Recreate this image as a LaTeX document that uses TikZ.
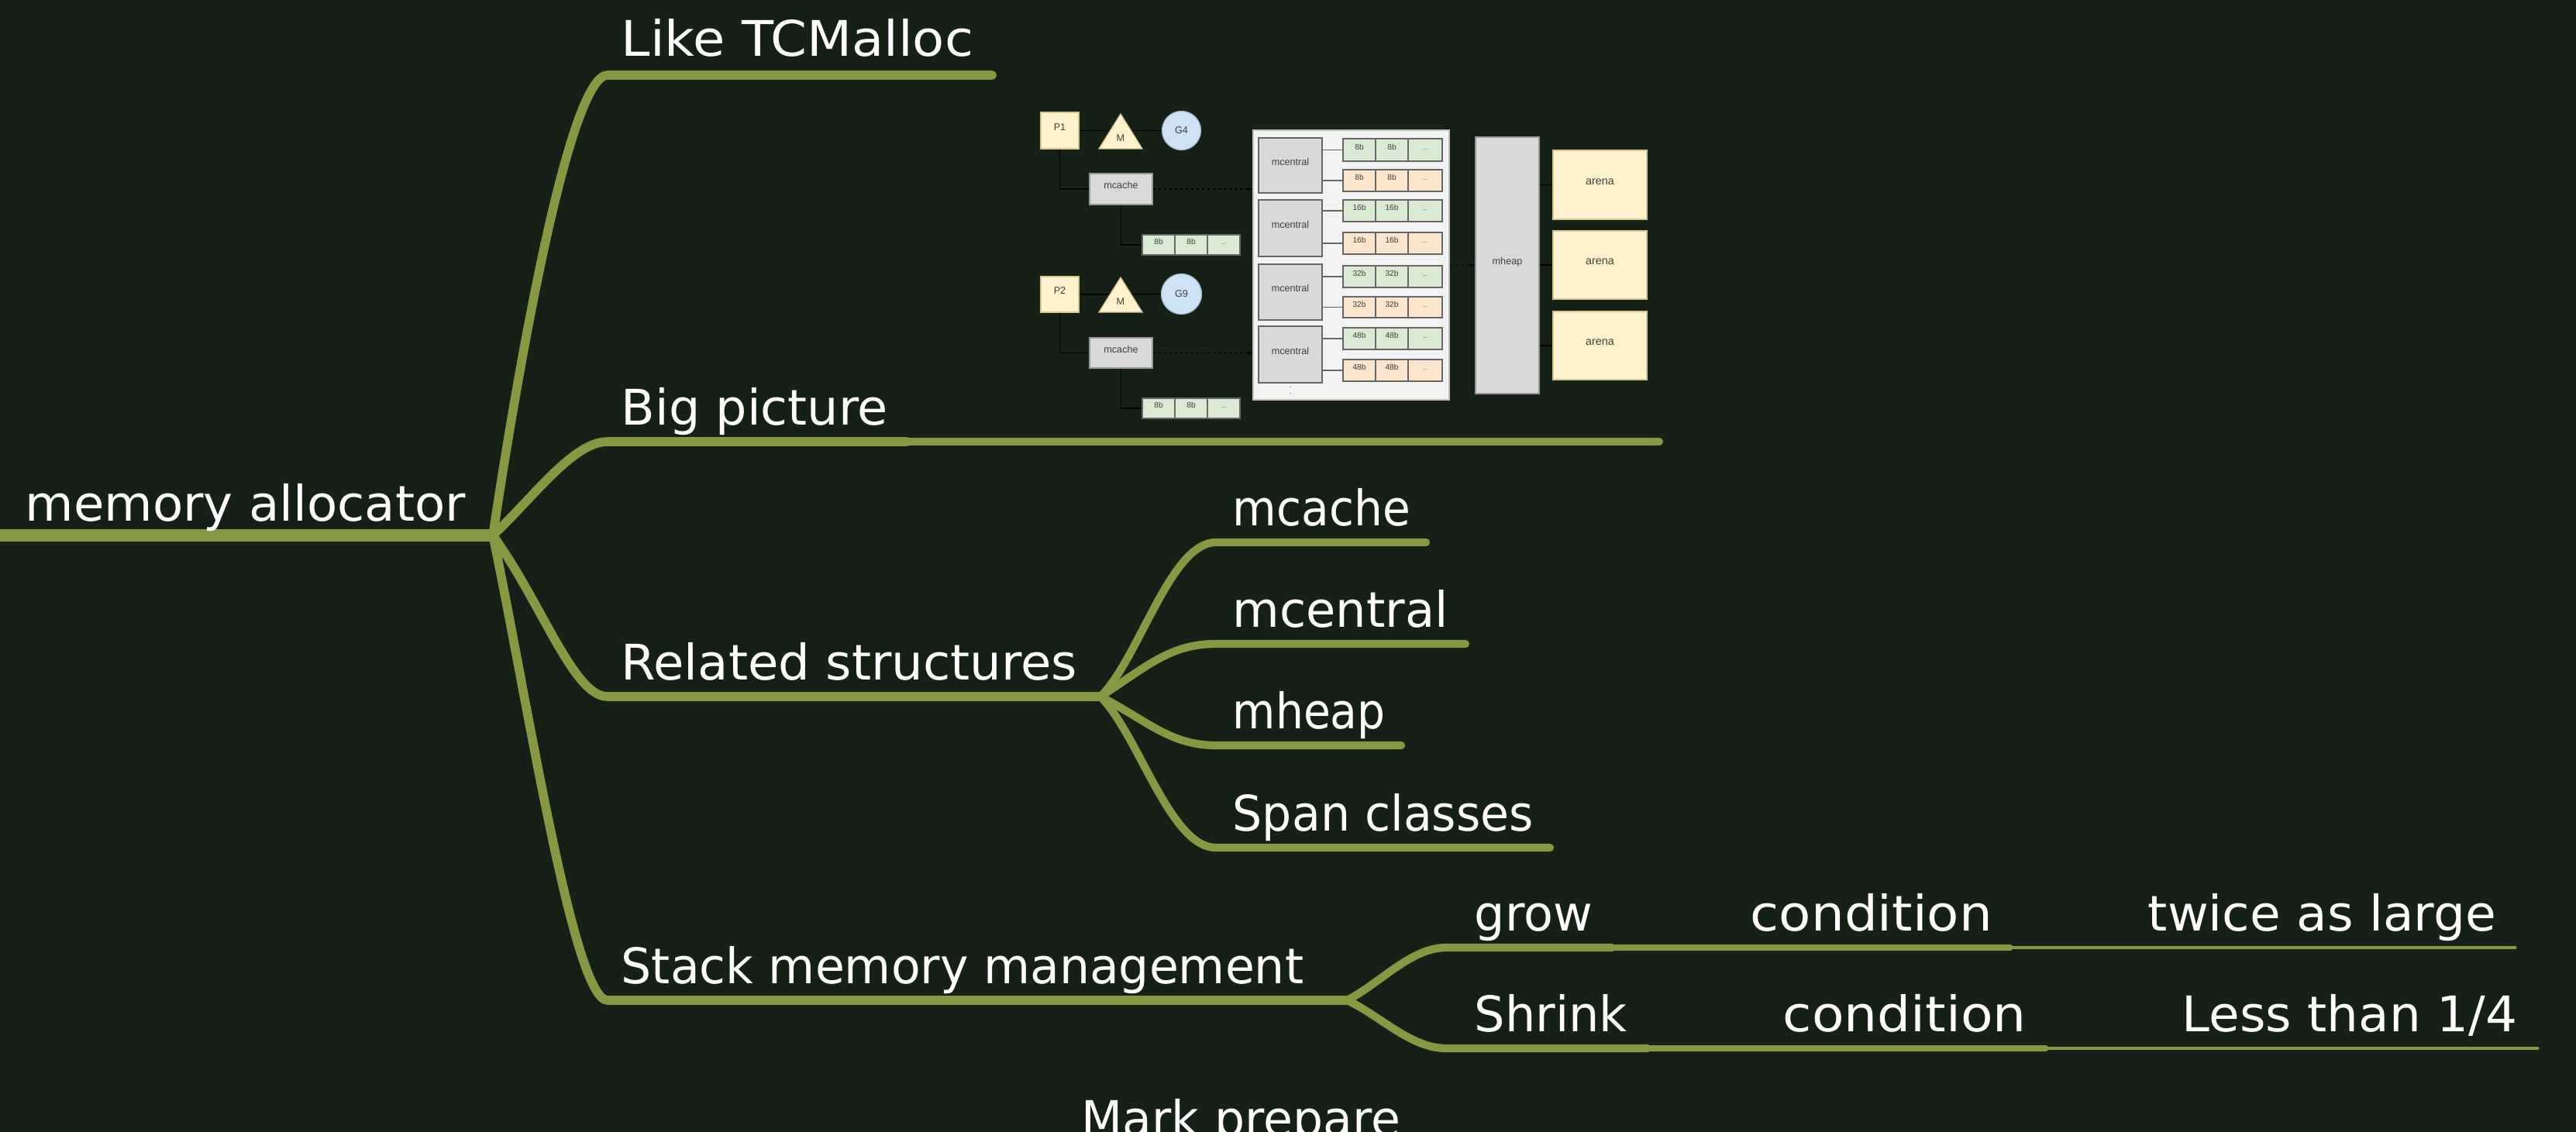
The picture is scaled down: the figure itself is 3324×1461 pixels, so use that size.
\documentclass[tikz,border=0pt]{standalone}
\usepackage{fontspec}
\setmainfont{DejaVu Sans}
\newfontfamily\arialf{Liberation Sans}
\usetikzlibrary{fit,arrows.meta}
\definecolor{bgc}{RGB}{21,32,23}
\definecolor{olv}{RGB}{135,152,66}
\definecolor{yel}{HTML}{FFF2CC}
\definecolor{yelb}{HTML}{D6C48F}
\definecolor{blu}{HTML}{CFE2F3}
\definecolor{blub}{HTML}{9FB9D3}
\definecolor{gry}{HTML}{D9D9D9}
\definecolor{grn}{HTML}{D9EAD3}
\definecolor{org}{HTML}{FCE5CD}
\definecolor{pnl}{HTML}{F3F3F3}
\pgfdeclarelayer{bg}\pgfdeclarelayer{conn}\pgfsetlayers{bg,conn,main}
\newcommand\tw[2]{\resizebox{#1}{\height}{#2}}
\tikzset{
 mt/.style={text=white, font=\fontsize{18}{20}\selectfont, anchor=base west, inner sep=0},
 lzero/.style={draw=olv, line width=4.5pt, line cap=round},
 lone/.style={draw=olv, line width=3.3pt, line cap=round},
 ltwo/.style={draw=olv, line width=2.9pt, line cap=round},
 lthree/.style={draw=olv, line width=2.0pt, line cap=round},
 lfour/.style={draw=olv, line width=1.4pt, line cap=round},
 eb/.style={inner sep=0, draw=#1, line width=0.35pt, font=\arialf\fontsize{3.6}{4}\selectfont, text=black!75},
 cell/.style={eb=black!60, font=\arialf\fontsize{2.9}{3}\selectfont},
 dk/.style={draw=black, line width=0.4pt},
 gl/.style={draw=black!60, line width=0.45pt},
 dsh/.style={draw=black, line width=0.4pt, dash pattern=on 1pt off 1pt, -{Latex[length=0.6mm,width=0.5mm]}},
}
\newcommand\crow[5]{%
 \node[cell,fill=#4,fit={(1733,#2)(1775,#3)}] (#1a) {#5};
 \node[cell,fill=#4,fit={(1775,#2)(1817,#3)}] (#1b) {#5};
 \node[cell,fill=#4,fit={(1817,#2)(1861,#3)}] (#1c) {\tiny\fontsize{2.2}{2.5}\selectfont ...};
}
\newcommand\mrow[4]{%
 \node[cell,fill=grn,fit={(1474,#2)(1516,#3)}] (#1a) {8b};
 \node[cell,fill=grn,fit={(1516,#2)(1558,#3)}] (#1b) {8b};
 \node[cell,fill=grn,fit={(1558,#2)(1600,#3)}] (#1c) {\fontsize{2.2}{2.5}\selectfont ...};
}
\begin{document}
\begin{tikzpicture}[x=0.01cm,y=-0.01cm]
\begin{pgfonlayer}{bg}
\fill[bgc] (0,0) rectangle (3324,1461);
\end{pgfonlayer}
\useasboundingbox (0,0) rectangle (3324,1461);

% ---------- mind map coordinates ----------
\coordinate (r0) at (-20,691);
\coordinate (r1) at (636,691);
\coordinate (a0) at (784,97);   \coordinate (a1) at (1280,97);
\coordinate (b0) at (784,570);  \coordinate (b1) at (1170,570); \coordinate (b2) at (2141,570);
\coordinate (c0) at (784,899);  \coordinate (c1) at (1420,899);
\coordinate (d0) at (784,1291); \coordinate (d1) at (1738,1291);
\coordinate (c10) at (1569,700);  \coordinate (c11) at (1840,700);
\coordinate (c20) at (1569,831);  \coordinate (c21) at (1891,831);
\coordinate (c30) at (1569,962);  \coordinate (c31) at (1808,962);
\coordinate (c40) at (1569,1094); \coordinate (c41) at (2000,1094);
\coordinate (g0) at (1866,1223); \coordinate (g1) at (2080,1223); \coordinate (g2) at (2594,1223); \coordinate (g3) at (3245,1223);
\coordinate (s0) at (1866,1353); \coordinate (s1) at (2126,1353); \coordinate (s2) at (2640,1353); \coordinate (s3) at (3274,1353);

\begin{pgfonlayer}{conn}
\draw[lzero] (r0) -- (r1);
\draw[lone] (r1) .. controls +(44,-291) and +(-44,0) .. (a0) -- (a1);
\draw[lone] (r1) .. controls +(54,-51) and +(-44,0) .. (b0) -- (b1);
\draw[ltwo] (b1) -- (b2);
\draw[lone] (r1) .. controls +(64,89) and +(-44,0) .. (c0) -- (c1);
\draw[lone] (r1) .. controls +(44,209) and +(-44,0) .. (d0) -- (d1);
\draw[ltwo] (c1) .. controls +(50,-49) and +(-59,0) .. (c10) -- (c11);
\draw[ltwo] (c1) .. controls +(60,-39) and +(-59,0) .. (c20) -- (c21);
\draw[ltwo] (c1) .. controls +(60,31) and +(-59,0) .. (c30) -- (c31);
\draw[ltwo] (c1) .. controls +(50,51) and +(-59,0) .. (c40) -- (c41);
\draw[ltwo] (d1) .. controls +(42,-21) and +(-46,0) .. (g0) -- (g1);
\draw[lthree] (g1) -- (g2);
\draw[lfour] (g2) -- (g3);
\draw[ltwo] (d1) .. controls +(42,19) and +(-46,0) .. (s0) -- (s1);
\draw[lthree] (s1) -- (s2);
\draw[lfour] (s2) -- (s3);
\end{pgfonlayer}

% ---------- mind map texts ----------
\node[mt] (troot) at (32,672) {\tw{5.68cm}{memory allocator}};
\node[mt] (tlike) at (801,73) {\tw{4.54cm}{Like TCMalloc}};
\node[mt] (tbig) at (801,548) {\tw{3.44cm}{Big picture}};
\node[mt] (trel) at (801,877) {\tw{5.88cm}{Related structures}};
\node[mt] (tstack) at (801,1269) {\tw{8.80cm}{Stack memory management}};
\node[mt] (tmcache) at (1590,678) {\tw{2.29cm}{mcache}};
\node[mt] (tmcentral) at (1590,809) {\tw{2.78cm}{mcentral}};
\node[mt] (tmheap) at (1590,940) {\tw{1.97cm}{mheap}};
\node[mt] (tspan) at (1590,1072) {\tw{3.88cm}{Span classes}};
\node[mt] (tgrow) at (1902,1201) {\tw{1.52cm}{grow}};
\node[mt] (tcond1) at (2258,1201) {\tw{3.12cm}{condition}};
\node[mt] (ttwice) at (2771,1201) {\tw{4.49cm}{twice as large}};
\node[mt] (tshrink) at (1902,1331) {\tw{1.97cm}{Shrink}};
\node[mt] (tcond2) at (2300,1331) {\tw{3.14cm}{condition}};
\node[mt] (tless) at (2815,1331) {\tw{4.32cm}{Less than 1/4}};
\node[mt] (tmark) at (1395,1466) {\tw{4.11cm}{Mark prepare}};

% ---------- embedded diagram ----------
\node[eb=yelb,fill=yel,fit={(1343,145)(1392,192)}] (p1) {P1};
\filldraw[fill=yel,draw=yelb,line width=0.35pt] (1418,192) -- (1474,192) -- (1446,147) -- cycle;
\node[inner sep=0,font=\arialf\fontsize{3.6}{4}\selectfont,text=black!75] (m1) at (1446,178) {M};
\node[eb=blub,fill=blu,circle,minimum size=0.5cm] (g4) at (1524.5,168.5) {G4};
\node[eb=black!40,fill=gry,fit={(1406,224)(1487,264)}] (mc1) {mcache};
\mrow{ra}{303}{329}{}

\node[eb=yelb,fill=yel,fit={(1343,357)(1392,403)}] (p2) {P2};
\filldraw[fill=yel,draw=yelb,line width=0.35pt] (1418,403) -- (1474,403) -- (1446,358) -- cycle;
\node[inner sep=0,font=\arialf\fontsize{3.6}{4}\selectfont,text=black!75] (m2) at (1446,389) {M};
\node[eb=blub,fill=blu,circle,minimum size=0.52cm] (g9) at (1524.5,379.5) {G9};
\node[eb=black!40,fill=gry,fit={(1406,436)(1487,475)}] (mc2) {mcache};
\mrow{rb}{514}{540}{}

\node[eb=black!25,fill=pnl,fit={(1617,168)(1870,516)}] (panel) {};
\node[eb=black!60,fill=gry,fit={(1624,178)(1706,249)}] (mct1) {mcentral};
\node[eb=black!60,fill=gry,fit={(1624,258)(1706,331)}] (mct2) {mcentral};
\node[eb=black!60,fill=gry,fit={(1624,341)(1706,413)}] (mct3) {mcentral};
\node[eb=black!60,fill=gry,fit={(1624,421)(1706,494)}] (mct4) {mcentral};
\crow{ga}{179}{208}{grn}{8b}
\crow{oa}{219}{247}{org}{8b}
\crow{gb}{258}{286}{grn}{16b}
\crow{ob}{300}{328}{org}{16b}
\crow{gc}{343}{371}{grn}{32b}
\crow{oc}{383}{410}{org}{32b}
\crow{gd}{423}{451}{grn}{48b}
\crow{od}{464}{492}{org}{48b}

\node[eb=black!40,fill=gry,fit={(1904,177)(1986,508)}] (mh) {mheap};
\node[eb=yelb,fill=yel,fit={(2004,194)(2125,283)},font=\arialf\fontsize{4.1}{5}\selectfont] (ar1) {arena};
\node[eb=yelb,fill=yel,fit={(2004,298)(2125,386)},font=\arialf\fontsize{4.1}{5}\selectfont] (ar2) {arena};
\node[eb=yelb,fill=yel,fit={(2004,402)(2125,490)},font=\arialf\fontsize{4.1}{5}\selectfont] (ar3) {arena};

\begin{pgfonlayer}{conn}
\draw[dk] (p1.east) -- (g4.west);
\draw[dk] (p1.south) |- (mc1.west);
\draw[dk] (mc1.south) |- (raa.west);
\draw[dk,dotted] (mc1.south |- raa.west) -- ++(0,14);
\draw[dk] (p2.east) -- (g9.west);
\draw[dk] (p2.south) |- (mc2.west);
\draw[dk] (mc2.south) |- (rba.west);
\draw[dk,dotted] (mc2.south |- rba.west) -- ++(0,14);
\draw[dk] (mh.east |- ar1.west) -- (ar1.west);
\draw[dk] (mh.east |- ar2.west) -- (ar2.west);
\draw[dk] (mh.east |- ar3.west) -- (ar3.west);
\end{pgfonlayer}
\draw[dsh] (mc1.east) -- (mc1.east -| panel.west);
\draw[dsh] (mc2.east) -- (mc2.east -| panel.west);
\draw[dsh] (panel.east |- mh.west) -- (mh.west);
\draw[gl] (mct1.east |- gaa.west) -- (gaa.west);
\draw[gl] (mct1.east |- oaa.west) -- (oaa.west);
\draw[gl] (mct2.east |- gba.west) -- (gba.west);
\draw[gl] (mct2.east |- oba.west) -- (oba.west);
\draw[gl] (mct3.east |- gca.west) -- (gca.west);
\draw[gl] (mct3.east |- oca.west) -- (oca.west);
\draw[gl] (mct4.east |- gda.west) -- (gda.west);
\draw[gl] (mct4.east |- oda.west) -- (oda.west);
\draw[black!40,dotted,line width=0.4pt] (mct4.south) ++(0,4) coordinate (dt0) -- ++(0,15);
\end{tikzpicture}
\end{document}
